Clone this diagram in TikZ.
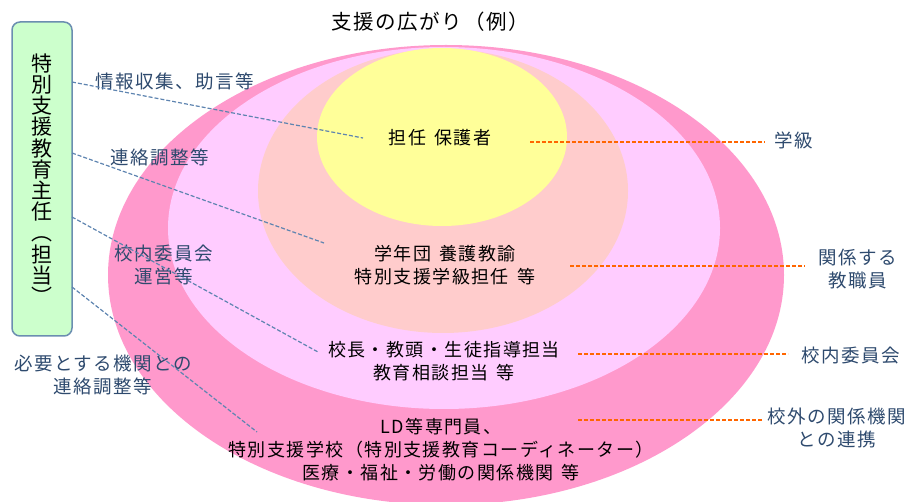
\documentclass[tikz,border=0pt]{standalone}
\usepackage{fontspec}
\setmainfont[LetterSpace=8]{Noto Sans CJK JP}
\definecolor{outerpink}{HTML}{FF99CC}
\definecolor{ringlilac}{HTML}{FFCCFF}
\definecolor{ringsalmon}{HTML}{FFCCCC}
\definecolor{ringyellow}{HTML}{FFFF99}
\definecolor{boxgreen}{HTML}{CCFFCC}
\definecolor{boxedge}{HTML}{6B8EB0}
\definecolor{labelblue}{HTML}{2E4A6E}
\definecolor{linkblue}{HTML}{5E84B0}
\definecolor{linkorange}{HTML}{FF6600}
\newcommand\jsp{\hspace{0.45em}}
\begin{document}
\begin{tikzpicture}[x=1pt,y=-1pt,
  lbl/.style={font=\fontsize{18.5}{23}\selectfont, text=labelblue, align=center, inner sep=0pt},
  ctr/.style={font=\fontsize{18}{23}\selectfont, text=black, align=center, inner sep=0pt},
  bluelink/.style={draw=linkblue, line width=1.2pt, dash pattern=on 4pt off 2pt},
  orangelink/.style={draw=linkorange, line width=1.2pt, dash pattern=on 4pt off 2pt},
  ring/.style={draw=none}
]
\useasboundingbox (0,0) rectangle (915,502);
% rings
\fill[outerpink] (446,275) ellipse [x radius=338pt, y radius=230pt];
\fill[ringlilac] (444,228) ellipse [x radius=276pt, y radius=181pt];
\fill[ringsalmon] (443,191) ellipse [x radius=185pt, y radius=142pt];
\fill[ringyellow] (442,137) ellipse [x radius=125pt, y radius=89pt];
% title
\node[font=\fontsize{20.5}{24}\selectfont, inner sep=0pt] (title) at (430,22) {支援の広がり（例）};
% left box
\node[draw=boxedge, fill=boxgreen, line width=1.5pt, rounded corners=8pt,
      minimum width=60pt, minimum height=314pt, inner sep=0pt] (box) at (42,179) {};
\node[font=\fontsize{21}{21.2}\selectfont, align=center, inner sep=0pt] (vt) at (box.center)
  {特\\別\\支\\援\\教\\育\\主\\任\\︵\\担\\当\\︶};
% center texts
\node[ctr] (c1) at (440,138) {担任\jsp 保護者};
\node[ctr] (c2) at (445,265) {学年団\jsp 養護教諭\\特別支援学級担任\jsp 等};
\node[ctr] (c3) at (444,361) {校長・教頭・生徒指導担当\\教育相談担当\jsp 等};
\node[ctr] (c4) at (441,450) {LD等専門員、\\特別支援学校（特別支援教育コーディネーター）\\医療・福祉・労働の関係機関\jsp 等};
% left labels
\node[lbl] (l1) at (175,81) {情報収集、助言等};
\node[lbl] (l2) at (160,157) {連絡調整等};
\node[lbl] (l3) at (164,265) {校内委員会\\運営等};
\node[lbl] (l4) at (103,375) {必要とする機関との\\連絡調整等};
% right labels
\node[lbl] (r1) at (794,140) {学級};
\node[lbl] (r2) at (858,269) {関係する\\教職員};
\node[lbl] (r3) at (851,355) {校内委員会};
\node[lbl] (r4) at (837,428) {校外の関係機関\\との連携};
% blue connectors
\coordinate (b1) at (72,82);   \coordinate (e1) at (363,138);
\coordinate (b2) at (72,153);  \coordinate (e2) at (324,243);
\coordinate (b3) at (72,217);  \coordinate (e3) at (318,352);
\coordinate (b4) at (72,287);  \coordinate (e4) at (257,432);
\draw[bluelink] (b1) -- (e1);
\draw[bluelink] (b2) -- (e2);
\draw[bluelink] (b3) -- (e3);
\draw[bluelink] (b4) -- (e4);
% orange connectors
\coordinate (o1s) at (530,142); \coordinate (o1e) at (765,142);
\coordinate (o2s) at (570,266); \coordinate (o2e) at (805,266);
\coordinate (o3s) at (578,354); \coordinate (o3e) at (788,354);
\coordinate (o4s) at (578,420); \coordinate (o4e) at (762,420);
\draw[orangelink] (o1s) -- (o1e);
\draw[orangelink] (o2s) -- (o2e);
\draw[orangelink] (o3s) -- (o3e);
\draw[orangelink] (o4s) -- (o4e);
\end{tikzpicture}
\end{document}
